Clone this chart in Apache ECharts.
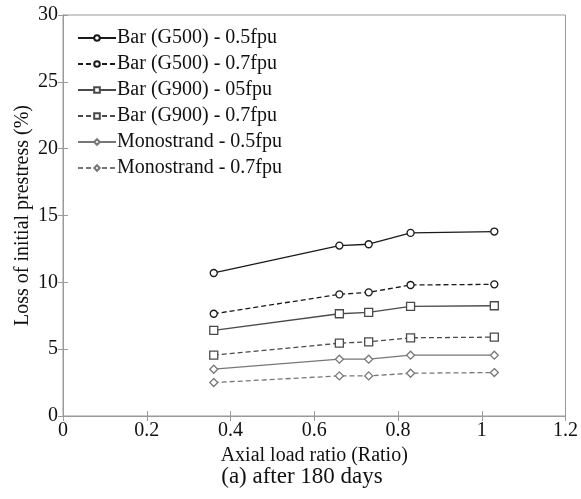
<!DOCTYPE html>
<html lang="en">
<head>
    <meta charset="UTF-8">
    <title>Loss of initial prestress</title>
    <style>
        html, body { margin: 0; padding: 0; background: #fff; }
    </style>
</head>
<body>
<script src="https://cdn.jsdelivr.net/npm/echarts@6/dist/echarts.min.js"></script>
<div id="main" style="width: 581px;height:499px;"></div>

<script>
    var myChart = echarts.init(document.getElementById('main'));

    // axial load ratios
    var ratios = [0.36, 0.66, 0.73, 0.83, 1.03];

    var g500_05 = [10.7, 12.75, 12.85, 13.7, 13.8];
    var g500_07 = [7.65, 9.1, 9.25, 9.8, 9.85];
    var g900_05 = [6.4, 7.65, 7.75, 8.2, 8.25];
    var g900_07 = [4.55, 5.45, 5.55, 5.85, 5.9];
    var mono_05 = [3.5, 4.25, 4.25, 4.55, 4.55];
    var mono_07 = [2.5, 3.0, 3.0, 3.2, 3.25];

    var names = [
        'Bar (G500) - 0.5fpu',
        'Bar (G500) - 0.7fpu',
        'Bar (G900) - 05fpu',
        'Bar (G900) - 0.7fpu',
        'Monostrand - 0.5fpu',
        'Monostrand - 0.7fpu'
    ];

    var font = '"Liberation Serif", "Times New Roman", serif';

    function pairs(ys) {
        var out = [];
        for (var i = 0; i < ratios.length; i++) {
            out.push([ratios[i], ys[i]]);
        }
        return out;
    }

    function makeSeries(name, ys, color, dashed, symbol, size) {
        return {
            name: name,
            type: 'line',
            data: pairs(ys),
            symbol: symbol,
            symbolSize: size,
            showSymbol: true,
            itemStyle: { color: '#fff', borderColor: color, borderWidth: 1.3 },
            lineStyle: { color: color, width: 1.3, type: dashed ? [5, 3] : 'solid' },
            emphasis: { disabled: true },
            animation: false
        };
    }

    var boxColor = '#9a9a9a';

    var option = {
        backgroundColor: '#fff',
        title: {
            text: '(a) after 180 days',
            left: 297,
            textAlign: 'center',
            top: 460,
            textStyle: { fontFamily: font, fontSize: 23, fontWeight: 'normal', color: '#111' }
        },
        legend: {
            orient: 'vertical',
            left: 72,
            top: 23,
            itemWidth: 38,
            itemHeight: 7,
            itemGap: 6,
            data: names,
            textStyle: { fontFamily: font, fontSize: 20, color: '#111', padding: [0, 0, 0, -4] }
        },
        grid: {
            left: 63,
            right: 15,
            top: 15,
            bottom: 83,
            show: true,
            borderColor: boxColor,
            borderWidth: 1
        },
        xAxis: [{
            type: 'value',
            min: 0,
            max: 1.2,
            interval: 0.2,
            name: 'Axial load ratio (Ratio)',
            nameLocation: 'middle',
            nameGap: 27,
            nameTextStyle: { fontFamily: font, fontSize: 20, color: '#111' },
            axisLine: { lineStyle: { color: boxColor } },
            axisTick: { inside: true, length: 5, lineStyle: { color: boxColor } },
            axisLabel: { fontFamily: font, fontSize: 20, color: '#111', margin: 5 },
            splitLine: { show: false }
        }, {
            type: 'value',
            position: 'top',
            min: 0,
            max: 1.2,
            interval: 0.2,
            axisLine: { lineStyle: { color: boxColor } },
            axisTick: { inside: true, length: 5, lineStyle: { color: boxColor } },
            axisLabel: { show: false },
            splitLine: { show: false }
        }],
        yAxis: [{
            type: 'value',
            min: 0,
            max: 30,
            interval: 5,
            name: 'Loss of initial prestress (%)',
            nameLocation: 'middle',
            nameGap: 30,
            nameMoveOverlap: false,
            nameTextStyle: { fontFamily: font, fontSize: 20, color: '#111' },
            axisLine: { show: true, lineStyle: { color: boxColor } },
            axisTick: { show: true, inside: true, length: 5, lineStyle: { color: boxColor } },
            axisLabel: { fontFamily: font, fontSize: 20, color: '#111', margin: 5 },
            splitLine: { show: false }
        }, {
            type: 'value',
            position: 'right',
            min: 0,
            max: 30,
            interval: 5,
            axisLine: { show: true, lineStyle: { color: boxColor } },
            axisTick: { show: true, inside: true, length: 5, lineStyle: { color: boxColor } },
            axisLabel: { show: false },
            splitLine: { show: false }
        }],
        series: [
            makeSeries(names[0], g500_05, '#1a1a1a', false, 'circle', 7),
            makeSeries(names[1], g500_07, '#1a1a1a', true, 'circle', 7),
            makeSeries(names[2], g900_05, '#4a4a4a', false, 'rect', 8),
            makeSeries(names[3], g900_07, '#4a4a4a', true, 'rect', 8),
            makeSeries(names[4], mono_05, '#777777', false, 'diamond', 8),
            makeSeries(names[5], mono_07, '#777777', true, 'diamond', 8)
        ]
    };

    myChart.setOption(option);
</script>
</body>
</html>
